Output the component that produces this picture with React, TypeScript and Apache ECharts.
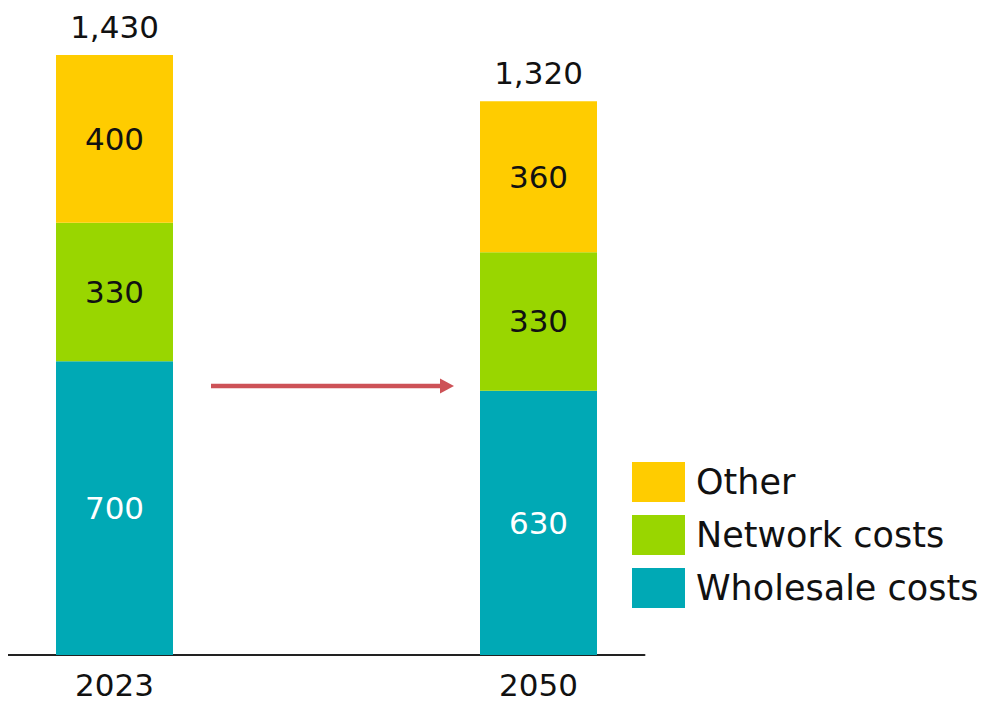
import React, { useEffect, useRef } from "react";
import * as echarts from "echarts";

const categories = ["2023", "", "2050"];
const wholesale = [700, null, 630];
const network = [330, null, 330];
const other = [400, null, 360];
const totals = [1430, null, 1320];
const legendNames = ["Other", "Network costs", "Wholesale costs"];

const FONT = "DejaVu Sans";

export default function App() {
  const ref = useRef<HTMLDivElement>(null);
  useEffect(() => {
    if (!ref.current) return;
    const chart = echarts.init(ref.current, null, { renderer: "svg" });
    const fmt = (v: number) => v.toLocaleString("en-US");
    const inside = (color: string) => ({
      show: true,
      position: "inside",
      color,
      fontSize: 31,
      fontFamily: FONT,
      formatter: (p: any) => fmt(p.value),
    });
    chart.setOption({
      animation: false,
      textStyle: { fontFamily: FONT },
      grid: { left: 8.5, right: 344.5, top: 55, bottom: 46, containLabel: false },
      legend: {
        data: legendNames,
        orient: "vertical",
        left: 627,
        top: 457,
        itemWidth: 53,
        itemHeight: 40,
        itemGap: 13,
        icon: "rect",
        selectedMode: false,
        textStyle: { fontSize: 35, color: "#111", fontFamily: FONT, padding: [0, 0, 0, 6] },
      },
      xAxis: {
        type: "category",
        data: categories,
        axisLine: { show: true, lineStyle: { color: "#222", width: 2 } },
        axisTick: { show: false },
        axisLabel: { fontSize: 31, color: "#111", margin: 14, fontFamily: FONT },
      },
      yAxis: {
        type: "value",
        min: 0,
        max: 1430,
        show: false,
        splitLine: { show: false },
      },
      series: [
        {
          name: "Wholesale costs",
          type: "bar",
          stack: "s",
          barWidth: 117,
          data: wholesale,
          itemStyle: { color: "#00A9B5" },
          label: inside("#ffffff"),
        },
        {
          name: "Network costs",
          type: "bar",
          stack: "s",
          data: network,
          itemStyle: { color: "#99D600" },
          label: inside("#111111"),
        },
        {
          name: "Other",
          type: "bar",
          stack: "s",
          data: other,
          itemStyle: { color: "#FFCC00" },
          label: inside("#111111"),
        },
        {
          name: "Total",
          type: "bar",
          stack: "s",
          data: totals.map((t) => (t == null ? null : 0)),
          itemStyle: { color: "transparent" },
          label: {
            show: true,
            position: "top",
            distance: 13,
            color: "#111",
            fontSize: 31,
            fontFamily: FONT,
            formatter: (p: any) => fmt(totals[p.dataIndex] as number),
          },
        },
      ],
      graphic: [
        {
          type: "line",
          shape: { x1: 211, y1: 386, x2: 442, y2: 386 },
          style: { stroke: "#CD5257", lineWidth: 4.5 },
        },
        {
          type: "polygon",
          shape: { points: [[440, 378.5], [454, 386], [440, 393.5]] },
          style: { fill: "#CD5257" },
        },
      ],
    });
    return () => chart.dispose();
  }, []);
  return <div ref={ref} style={{ width: 989, height: 701, marginLeft: -8, marginTop: -8 }} />;
}
